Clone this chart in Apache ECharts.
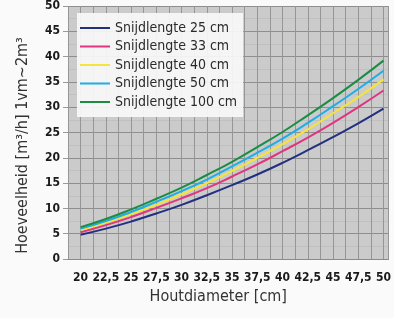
<!DOCTYPE html>
<html>
<head>
<meta charset="utf-8">
<script src="https://cdn.jsdelivr.net/npm/echarts@6/dist/echarts.min.js"></script>
<style>
  html, body { margin: 0; padding: 0; background: #fafafa; }
  #chart { width: 394px; height: 318px; }
</style>
</head>
<body>
<div id="chart"></div>
<script>
// houtdiameter in cm
const diameters = [20, 22.5, 25, 27.5, 30, 32.5, 35, 37.5, 40, 42.5, 45, 47.5, 50];

const snij25 = [4.8, 6.0, 7.4, 9.0, 10.7, 12.6, 14.6, 16.7, 19.0, 21.5, 24.1, 26.8, 29.7];
const snij33 = [5.3, 6.7, 8.3, 10.1, 12.0, 14.0, 16.3, 18.7, 21.3, 24.0, 26.9, 30.0, 33.3];
const snij40 = [5.7, 7.2, 8.9, 10.7, 12.8, 15.0, 17.4, 20.0, 22.7, 25.6, 28.8, 32.0, 35.5];
const snij50 = [6.0, 7.5, 9.3, 11.3, 13.4, 15.7, 18.3, 21.0, 23.8, 26.9, 30.2, 33.6, 37.2];
const snij100 = [6.3, 7.9, 9.8, 11.9, 14.1, 16.6, 19.2, 22.1, 25.1, 28.4, 31.8, 35.4, 39.2];

const names = ['Snijdlengte 25 cm', 'Snijdlengte 33 cm', 'Snijdlengte 40 cm', 'Snijdlengte 50 cm', 'Snijdlengte 100 cm'];
const colors = ['#23307f', '#e0357f', '#f3e53a', '#1eaee3', '#1b8c45'];
const values = [snij25, snij33, snij40, snij50, snij100];

const chart = echarts.init(document.getElementById('chart'));

const narrow = "'Liberation Sans Narrow', 'DejaVu Sans Condensed', sans-serif";

const option = {
  backgroundColor: '#fafafa',
  animation: false,
  color: colors,
  grid: {
    left: 68, right: 0, top: 5, bottom: 59,
    show: true,
    backgroundColor: '#cbcbcb',
    borderWidth: 0
  },
  legend: {
    left: 77, top: 13,
    orient: 'vertical',
    backgroundColor: 'rgba(248,248,248,0.92)',
    padding: [7, 6, 7, 3],
    itemGap: 2.5,
    itemWidth: 30,
    itemHeight: 2,
    icon: 'rect',
    textStyle: { fontFamily: narrow, fontSize: 14, color: '#2a2a2a', lineHeight: 16 },
    data: names
  },
  xAxis: {
    type: 'value',
    min: 18.75,
    max: 50.5,
    interval: 1.25,
    name: 'Houtdiameter [cm]',
    nameLocation: 'middle',
    nameGap: 30,
    nameTextStyle: { fontFamily: narrow, fontSize: 16, color: '#333', padding: [0, 20, 0, 0] },
    axisLine: { show: true, lineStyle: { color: '#8a8a8a' } },
    axisTick: { show: false },
    axisLabel: {
      margin: 13,
      fontFamily: narrow, fontSize: 12, fontWeight: 'bold', color: '#1a1a1a',
      showMaxLabel: false,
      formatter: function (v) {
        if (v < 20 || v > 50 || Math.abs(v / 2.5 - Math.round(v / 2.5)) > 1e-6) return '';
        return String(v).replace('.', ',');
      }
    },
    splitLine: { show: true, lineStyle: { color: '#969696', width: 1 } }
  },
  yAxis: {
    type: 'value',
    min: 0,
    max: 50,
    interval: 5,
    name: 'Hoeveelheid [m³/h] 1vm~2m³',
    nameLocation: 'middle',
    nameGap: 37,
    nameTextStyle: { fontFamily: narrow, fontSize: 16, color: '#333', padding: [0, 26, 0, 0] },
    axisLine: { show: false },
    axisTick: { show: true, length: 5, lineStyle: { color: '#999' } },
    axisLabel: { margin: 8, fontFamily: narrow, fontSize: 12, fontWeight: 'bold', color: '#1a1a1a' },
    splitLine: { show: true, lineStyle: { color: '#8e8e8e', width: 1 } },
    minorTick: { show: false, splitNumber: 2 },
    minorSplitLine: { show: true, lineStyle: { color: '#c0c0c0', width: 1 } }
  },
  series: names.map(function (n, i) {
    return {
      name: n,
      type: 'line',
      smooth: true,
      symbol: 'none',
      lineStyle: { width: 2, color: colors[i] },
      data: diameters.map(function (d, j) { return [d, values[i][j]]; })
    };
  })
};

chart.setOption(option);
</script>
</body>
</html>
